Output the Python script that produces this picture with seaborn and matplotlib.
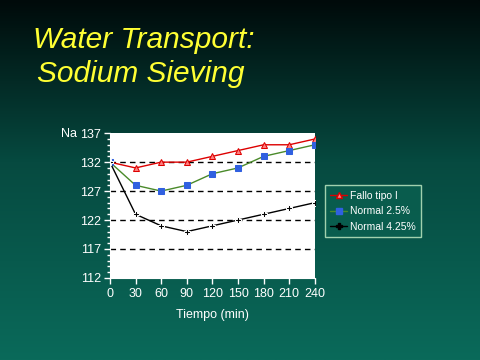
import numpy as np
import pandas as pd
import matplotlib
matplotlib.use("Agg")
import matplotlib.pyplot as plt
import seaborn as sns
from matplotlib.colors import LinearSegmentedColormap
from matplotlib.lines import Line2D

tiempo = [0, 30, 60, 90, 120, 150, 180, 210, 240]
fallo_tipo_i = [132, 131, 132, 132, 133, 134, 135, 135, 136]
normal_25 = [132, 128, 127, 128, 130, 131, 133, 134, 135]
normal_425 = [132, 123, 121, 120, 121, 122, 123, 124, 125]
series_names = ["Fallo tipo I", "Normal 2.5%", "Normal 4.25%"]
yticks = [112, 117, 122, 127, 132, 137]
xticks = tiempo

df = pd.DataFrame({
    "Tiempo": tiempo * 3,
    "Na": fallo_tipo_i + normal_25 + normal_425,
    "Serie": [series_names[0]] * 9 + [series_names[1]] * 9 + [series_names[2]] * 9,
})

sns.set_style("white")
plt.rcParams['font.family'] = ['Liberation Sans', 'DejaVu Sans']

fig = plt.figure(figsize=(4.8, 3.6), dpi=100)
# background gradient
bg = fig.add_axes([0, 0, 1, 1], zorder=-10)
cmap = LinearSegmentedColormap.from_list("bg", [(0.0, "#000a0a"), (0.45, "#064a40"), (1.0, "#0a6a5a")])
grad = np.linspace(0, 1, 256).reshape(-1, 1)
bg.imshow(grad, aspect="auto", cmap=cmap, extent=[0, 1, 0, 1], origin="upper")
bg.axis("off")

fig.text(0.068, 0.89, "Water Transport:", color="#ffff33", fontsize=21.5, style="italic", va="center")
fig.text(0.078, 0.795, "Sodium Sieving", color="#ffff33", fontsize=21.5, style="italic", va="center")

ax = fig.add_axes([0.229, 0.228, 0.427, 0.402])
ax.set_facecolor("white")

palette = {series_names[0]: "#dd0000", series_names[1]: "#4a8a2a", series_names[2]: "#000000"}
markers = {series_names[0]: "^", series_names[1]: "s", series_names[2]: "P"}
sns.lineplot(data=df, x="Tiempo", y="Na", hue="Serie", style="Serie", palette=palette,
             markers=markers, dashes=False, ax=ax, linewidth=1.0, markersize=4, legend=False)
for line, name in zip(ax.get_lines(), series_names):
    if name == series_names[0]:
        line.set_markerfacecolor("#ff8080")
        line.set_markeredgecolor("#dd0000")
    elif name == series_names[1]:
        line.set_markerfacecolor("#3060e0")
        line.set_markeredgecolor("#3060e0")
    else:
        line.set_markersize(4)

for y in [117, 122, 127, 132]:
    ax.axhline(y, color="black", linestyle=(0, (4, 3)), linewidth=1.0, zorder=0)

ax.set_xlim(0, 240)
ax.set_ylim(112, 137)
ax.set_xticks(xticks)
ax.set_yticks(yticks)
ax.set_yticks(range(112, 138), minor=True)
ax.tick_params(axis="both", colors="white", labelsize=9, direction="out", length=4, width=1)
ax.tick_params(axis="y", which="minor", colors="white", length=2, width=1)
ax.tick_params(axis="y", left=True, which="both", pad=2.5)
ax.tick_params(axis="x", bottom=True)
for s in ax.spines.values():
    s.set_visible(False)
ax.spines["left"].set_visible(True)
ax.spines["left"].set_color("white")
ax.spines["bottom"].set_visible(True)
ax.spines["bottom"].set_color("white")
ax.set_xlabel("Tiempo (min)", color="white", fontsize=9, labelpad=6)
ax.set_ylabel("")
fig.text(0.128, 0.628, "Na", color="white", fontsize=9, ha="left", va="center")

handles = [
    Line2D([], [], color="#dd0000", marker="^", markersize=4, markerfacecolor="#ff8080", lw=1),
    Line2D([], [], color="#4a8a2a", marker="s", markersize=4, markerfacecolor="#3060e0", markeredgecolor="#3060e0", lw=1),
    Line2D([], [], color="black", marker="P", markersize=4, lw=1),
]
leg = fig.legend(handles, series_names, loc="upper left", bbox_to_anchor=(0.677, 0.485),
                 fontsize=7.5, frameon=True, handlelength=1.6, handletextpad=0.35,
                 borderpad=0.5, labelspacing=0.55, fancybox=False, borderaxespad=0)
leg.get_frame().set_facecolor("#0a6050")
leg.get_frame().set_edgecolor("#c8f0c8")
leg.get_frame().set_linewidth(1)
for t in leg.get_texts():
    t.set_color("white")

fig.savefig("out.png", dpi=100)
